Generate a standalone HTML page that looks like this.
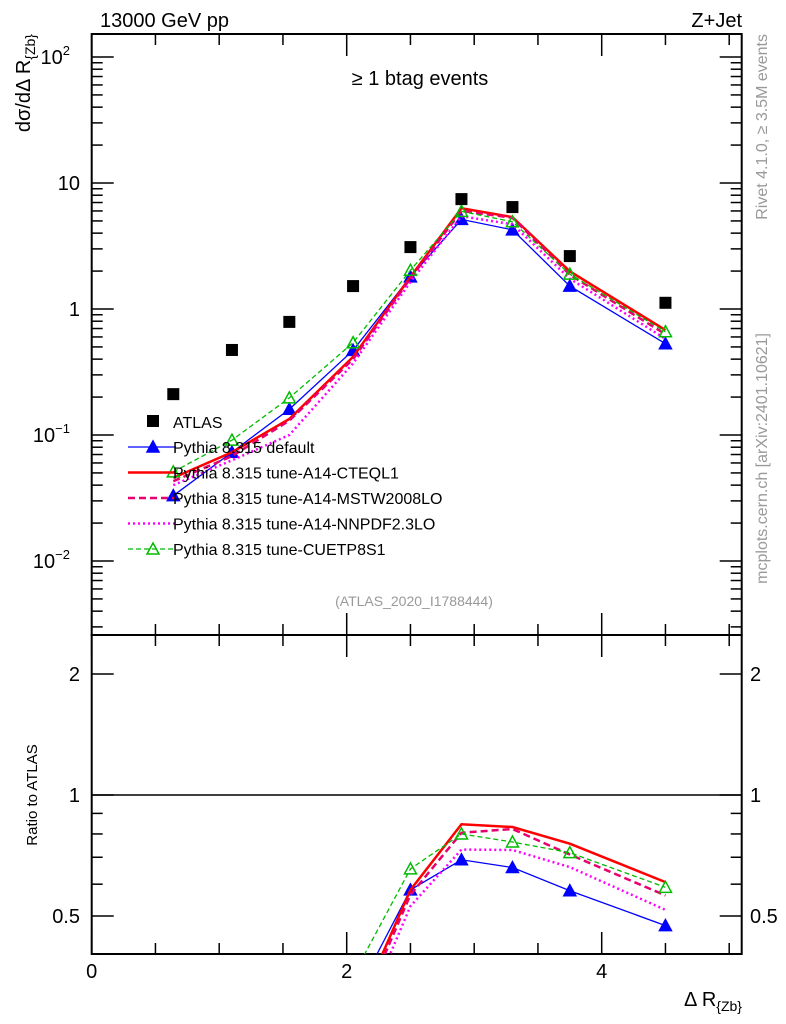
<!DOCTYPE html>
<html><head><meta charset="utf-8"><style>
html,body{margin:0;background:#fff;overflow:hidden;width:786px;height:1024px}
svg{font-family:"Liberation Sans",sans-serif;display:block}
</style></head><body>
<svg id="c" width="786" height="1024" xmlns="http://www.w3.org/2000/svg"></svg>
<script>
const xs=[0.64,1.1,1.55,2.05,2.5,2.9,3.3,3.75,4.5];
const atlas=[0.211,0.473,0.79,1.52,3.1,7.45,6.44,2.63,1.12];
const pyDefault=[0.033,0.073,0.16,0.47,1.8,5.14,4.25,1.52,0.53];
const pyCTEQL1=[0.0457,0.073,0.134,0.417,1.8,6.3,5.36,1.99,0.68];
const pyMSTW=[0.043,0.068,0.13,0.40,1.75,6.0,5.3,1.87,0.63];
const pyNNPDF=[0.04,0.063,0.10,0.37,1.64,5.45,4.7,1.74,0.58];
const pyCUETP=[0.051,0.091,0.197,0.54,2.03,5.96,4.92,1.89,0.66];
const xTicks=[0,2,4];
const mainTicks=[[100,"10","2"],[10,"10",""],[1,"1",""],[0.1,"10","\u22121"],[0.01,"10","\u22122"]];
const ratioTicks=[2,1,0.5];

const NS="http://www.w3.org/2000/svg";
const svg=document.getElementById('c');
function el(t,a,p){const e=document.createElementNS(NS,t);for(const k in a)e.setAttribute(k,a[k]);(p||svg).appendChild(e);return e;}
const L=91.7,R=741.7,T=34,MB=635,B=954;
const X=v=>L+v*127.5;
const Y=v=>183-(Math.log10(v)-1)*126;
const YR=v=>795-Math.log2(v)*121;

const defs=el('defs',{});
const c1=el('clipPath',{id:'cm'},defs);el('rect',{x:L,y:T,width:R-L,height:MB-T},c1);
const c2=el('clipPath',{id:'cr'},defs);el('rect',{x:L,y:MB,width:R-L,height:B-MB},c2);

let f=el('rect',{x:L,y:T,width:R-L,height:MB-T,fill:'none',stroke:'#000','stroke-width':2});

f=el('rect',{x:L,y:MB,width:R-L,height:B-MB,fill:'none',stroke:'#000','stroke-width':2});


for(let v=0;v<=5.01;v+=0.5){
  const len=(Math.abs(v%2)<1e-6)?22:11;
  el('line',{x1:X(v),x2:X(v),y1:T,y2:T+len,stroke:'#000','stroke-width':1.5});
  el('line',{x1:X(v),x2:X(v),y1:MB,y2:MB-len,stroke:'#000','stroke-width':1.5});
  el('line',{x1:X(v),x2:X(v),y1:MB,y2:MB+len,stroke:'#000','stroke-width':1.5});
  el('line',{x1:X(v),x2:X(v),y1:B,y2:B-len,stroke:'#000','stroke-width':1.5});
}
xTicks.forEach(v=>{const t=el('text',{x:X(v),y:978,'font-size':20,'text-anchor':'middle'});t.textContent=v;
});

for(let d=-3;d<=2;d++){for(let m=1;m<10;m++){const v=m*Math.pow(10,d);const y=Y(v);if(y<T||y>MB)continue;
 const len=m==1?22:11;
 el('line',{x1:L,x2:L+len,y1:y,y2:y,stroke:'#000','stroke-width':1.5});
 el('line',{x1:R,x2:R-len,y1:y,y2:y,stroke:'#000','stroke-width':1.5});}}
mainTicks.forEach(([v,b,e])=>{const t=el('text',{x:e?70:80,y:Y(v)+7,'font-size':20,'text-anchor':'end'});t.textContent=b;
 if(e){const s=el('tspan',{'font-size':13,dy:-9},t);s.textContent=e;}
 });

for(let d=-2;d<=1;d++){for(let m=1;m<10;m++){const v=m*Math.pow(10,d);const y=YR(v);if(y<MB||y>B)continue;
 const major=(v==0.5||v==1||v==2);const len=major?22:11;
 el('line',{x1:L,x2:L+len,y1:y,y2:y,stroke:'#000','stroke-width':1.5});
 el('line',{x1:R,x2:R-len,y1:y,y2:y,stroke:'#000','stroke-width':1.5});}}
ratioTicks.forEach(v=>{let t=el('text',{x:80,y:YR(v)+7,'font-size':20,'text-anchor':'end'});t.textContent=v;
 
 t=el('text',{x:750,y:YR(v)+7,'font-size':20});t.textContent=v;
 });
el('line',{x1:L,x2:R,y1:YR(1),y2:YR(1),stroke:'#000','stroke-width':1.5});

const series=[
 {name:'default',d:pyDefault,c:'#0000ff',w:1.3,dash:'',mk:'tri'},
 {name:'cteql1',d:pyCTEQL1,c:'#ff0000',w:2.5,dash:'',mk:'none'},
 {name:'mstw',d:pyMSTW,c:'#e8006e',w:2.5,dash:'7,4',mk:'none'},
 {name:'nnpdf',d:pyNNPDF,c:'#ff00ff',w:2.5,dash:'2,3',mk:'none'},
 {name:'cuetp8s1',d:pyCUETP,c:'#00bb00',w:1.3,dash:'5,3',mk:'otri'}];
function tri(x,y,c,open,g){const p=el('path',{d:`M${x},${y-6}L${x+6},${y+5}L${x-6},${y+5}Z`,fill:open?'none':c,stroke:c,'stroke-width':1.5},g);}
series.forEach(s=>{
 const g1=el('g',{'clip-path':'url(#cm)'});
 el('polyline',{points:xs.map((x,i)=>X(x)+','+Y(s.d[i])).join(' '),fill:'none',stroke:s.c,'stroke-width':s.w,'stroke-dasharray':s.dash},g1);
 const g2=el('g',{'clip-path':'url(#cr)'});
 el('polyline',{points:xs.map((x,i)=>X(x)+','+YR(s.d[i]/atlas[i])).join(' '),fill:'none',stroke:s.c,'stroke-width':s.w,'stroke-dasharray':s.dash},g2);
 if(s.mk!='none')xs.forEach((x,i)=>{tri(X(x),Y(s.d[i]),s.c,s.mk=='otri',g1);tri(X(x),YR(s.d[i]/atlas[i]),s.c,s.mk=='otri',g2);});
});
atlas.forEach((v,i)=>{const r=el('rect',{x:X(xs[i])-6,y:Y(v)-6,width:12,height:12,fill:'#000'});
 });

const leg=el('g',{});
el('rect',{x:147,y:415,width:12,height:12,fill:'#000'},leg);
let t=el('text',{x:173,y:428,'font-size':16},leg);t.textContent='ATLAS';
const names=['Pythia 8.315 default','Pythia 8.315 tune-A14-CTEQL1','Pythia 8.315 tune-A14-MSTW2008LO','Pythia 8.315 tune-A14-NNPDF2.3LO','Pythia 8.315 tune-CUETP8S1'];
series.forEach((s,i)=>{const y=447+i*25.5;
 const e=el('g',{},leg);
 el('line',{x1:128,x2:176,y1:y,y2:y,stroke:s.c,'stroke-width':s.w,'stroke-dasharray':s.dash},e);
 if(s.mk!='none')tri(153,y,s.c,s.mk=='otri',e);
 const tt=el('text',{x:173,y:y+6,'font-size':16},e);tt.textContent=names[i];});

function txt(a,s,name){const t=el('text',a);t.textContent=s;return t;}
txt({x:100,y:27,'font-size':20},'13000 GeV pp','energy-label');
txt({x:742,y:27,'font-size':20,'text-anchor':'end'},'Z+Jet','process-label');
txt({x:420,y:85,'font-size':20,'text-anchor':'middle'},'\u2265 1 btag events','selection-label');
txt({x:414,y:606,'font-size':14,'text-anchor':'middle',fill:'#999'},'(ATLAS_2020_I1788444)','analysis-label');
txt({x:0,y:0,'font-size':16,fill:'#999','text-anchor':'end',transform:'translate(767,34) rotate(-90)'},'Rivet 4.1.0, \u2265 3.5M events','rivet-label');
txt({x:0,y:0,'font-size':16,fill:'#999','text-anchor':'end',transform:'translate(767,333) rotate(-90)'},'mcplots.cern.ch [arXiv:2401.10621]','mcplots-label');
let yt=txt({x:0,y:0,'font-size':20,'text-anchor':'end',transform:'translate(30,34) rotate(-90)'},'d\u03c3/d\u0394 R','y-axis-title');
let sp=el('tspan',{'font-size':14,dy:5},yt);sp.textContent='{Zb}';
txt({x:0,y:0,'font-size':15,'text-anchor':'middle',transform:'translate(37,795) rotate(-90)'},'Ratio to ATLAS','ratio-axis-title');
let xt=txt({x:0,y:0,'font-size':20,'text-anchor':'end',transform:'translate(742,1006)'},'\u0394 R','x-axis-title');
sp=el('tspan',{'font-size':14,dy:5},xt);sp.textContent='{Zb}';
</script>
</body></html>
